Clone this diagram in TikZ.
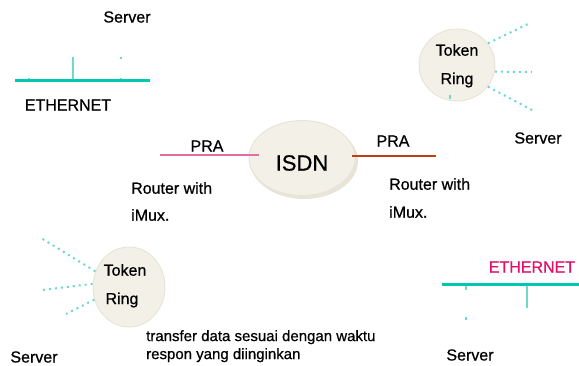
\documentclass[tikz,border=0pt]{standalone}
\usepackage{fontspec}
\setmainfont{Liberation Sans}
\newfontfamily\heavy{Liberation Sans}[FakeBold=0.7]
\usetikzlibrary{shapes.geometric}
\begin{document}
\begin{tikzpicture}[x=1pt,y=-1pt,
  lbl/.style={inner sep=0pt,font=\heavy\fontsize{16}{18}\selectfont},
  lbll/.style={lbl,anchor=west},
  bus/.style={line width=3pt,draw={rgb,255:red,0;green,200;blue,176}},
  drop/.style={line width=1.6pt,draw={rgb,255:red,110;green,216;blue,204}},
  dots/.style={line width=2pt,draw={rgb,255:red,110;green,216;blue,204},dash pattern=on 2pt off 4pt},
  blob/.style={ellipse,fill={rgb,255:red,242;green,240;blue,231},draw={rgb,255:red,232;green,229;blue,216},line width=1pt,inner sep=0pt}]
\useasboundingbox (0,0) rectangle (579,366);
% ---- ISDN cloud
\node[ellipse,draw=none,fill={rgb,255:red,232;green,229;blue,216},minimum width=108pt,minimum height=76pt,inner sep=0pt] (isdnsh) at (304,161) {};
\node[blob,minimum width=106pt,minimum height=75pt] (isdn) at (302,158) {};
\node[inner sep=0pt,font=\heavy\fontsize{22}{24}\selectfont] (isdnt) at (302,163) {ISDN};
% PRA links
\coordinate (pl) at (160,155);
\coordinate (pr) at (436,156);
\draw[line width=2pt,draw={rgb,255:red,224;green,112;blue,160}] (pl) -- ([xshift=10pt]pl -| isdn.west);
\draw[line width=2.5pt,draw={rgb,255:red,192;green,64;blue,16}] ([xshift=-4pt]pr -| isdn.east) -- (pr);
\node[lbl] (pra1) at (207,146) {PRA};
\node[lbl] (pra2) at (393,141) {PRA};
\node[lbll] (r1) at (131,188) {Router with};
\node[lbll] (m1) at (131,215) {iMux.};
\node[lbll] (r2) at (389,184) {Router with};
\node[lbll] (m2) at (389,212) {iMux.};
% ---- top-left ethernet
\coordinate (e1a) at (15,81);
\coordinate (e1b) at (150,81);
\coordinate (e1v) at (73,57);
\draw[drop] (e1v) -- (e1v |- e1a);
\draw[drop] (121,57) -- (121,59.5);
\draw[drop] (121,78) -- (121,80);
\draw[drop] (29,78) -- (29,80);
\draw[bus] (e1a) -- (e1b);
\node[lbl] (srv1) at (127,17) {Server};
\node[lbl] (eth1) at (68,105) {ETHERNET};
% ---- top-right token ring
\node[blob,minimum width=76pt,minimum height=72pt] (tr1) at (457,65) {};
\node[lbl] (tk1) at (457,50) {Token};
\node[lbl] (rg1) at (457,80) {Ring};
\coordinate (d1a) at (530,23);
\coordinate (d1b) at (532,72);
\coordinate (d1c) at (534,111);
\draw[dots] (tr1.35) -- (d1a);
\draw[dots] (tr1.-10) -- (d1b);
\draw[dots] (tr1.-35) -- (d1c);
\draw[drop] (450,95) -- (450,99);
\node[lbl] (srv2) at (538,138) {Server};
% ---- bottom-left token ring
\node[blob,minimum width=72pt,minimum height=80pt] (tr2) at (129,287) {};
\node[lbl] (tk2) at (125,270) {Token};
\node[lbl] (rg2) at (122,300) {Ring};
\coordinate (d2a) at (41,238);
\coordinate (d2b) at (42,290);
\coordinate (d2c) at (66,314);
\draw[dots] (tr2.155) -- (d2a);
\draw[dots] (tr2.175) -- (d2b);
\draw[dots] (tr2.200) -- (d2c);
\node[lbl] (srv3) at (34,357) {Server};
\node[inner sep=0pt,anchor=north west,align=left,font=\heavy\fontsize{15}{18}\selectfont] (note) at (146,330) {transfer data sesuai dengan waktu\\respon yang diinginkan};
% ---- bottom-right ethernet
\coordinate (e2a) at (442,285);
\coordinate (e2b) at (579,285);
\coordinate (e2v) at (527,308);
\draw[drop] (e2v |- e2a) -- (e2v);
\draw[drop] (466,286) -- (466,290);
\draw[drop] (466,317) -- (466,320);
\draw[bus] (e2a) -- (e2b);
\node[lbl,text={rgb,255:red,224;green,16;blue,106}] (eth2) at (532,267) {ETHERNET};
\node[lbl] (srv4) at (470,355) {Server};
\end{tikzpicture}
\end{document}
